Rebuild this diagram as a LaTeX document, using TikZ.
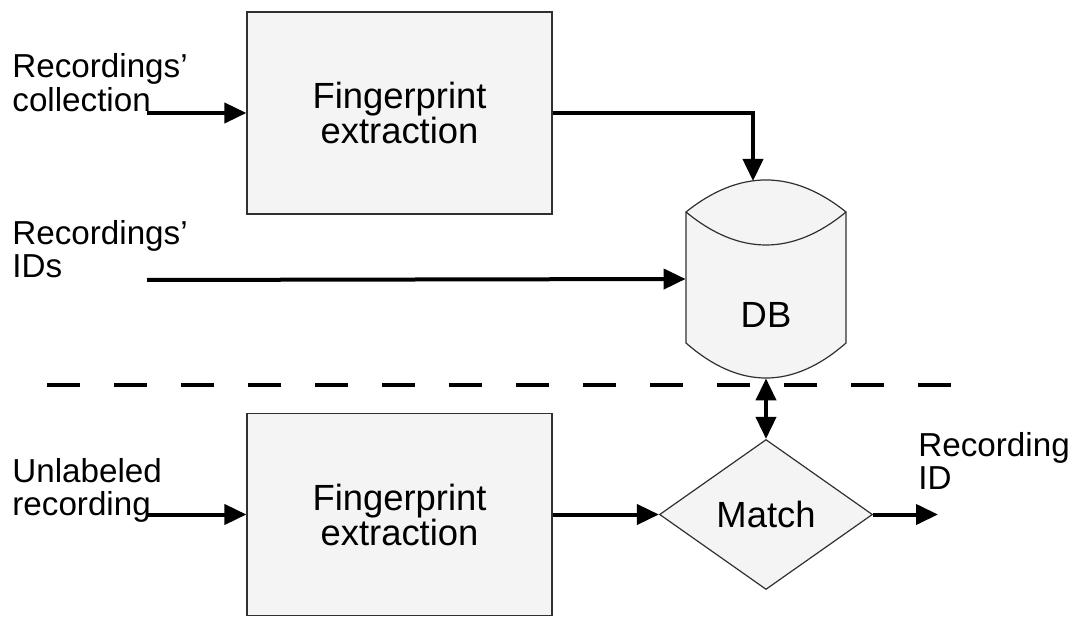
\documentclass[tikz,border=0pt]{standalone}
\usepackage{fontspec}
\setmainfont{Liberation Sans}
\usetikzlibrary{arrows.meta,shapes.geometric}

\definecolor{boxfill}{HTML}{F4F4F4}
\definecolor{boxline}{HTML}{303030}

\newcommand{\lblfont}{\fontsize{16.6pt}{16.5pt}\selectfont}
\newcommand{\boxfont}{\fontsize{18.2pt}{17.5pt}\selectfont}
\newcommand{\twolines}[2]{\begin{tabular}[t]{@{}l@{}}#1\\#2\end{tabular}}

\begin{document}
\begin{tikzpicture}[x=0.5pt,y=-0.5pt,
  stagebox/.style={draw=boxline, line width=0.6pt, fill=boxfill, inner sep=0pt,
    minimum width=152.5pt, minimum height=101pt, align=center, font=\boxfont},
  decision/.style={diamond, draw=boxline, line width=0.6pt, fill=boxfill, inner sep=0pt,
    minimum width=106.5pt, minimum height=75pt, font=\boxfont},
  sidelabel/.style={anchor=base west, inner sep=0pt, font=\lblfont},
  flow/.style={line width=2pt, -{Triangle[length=11pt,width=10pt]}},
  twoway/.style={line width=2pt, {Triangle[length=11pt,width=10pt]}-{Triangle[length=11pt,width=10pt]}},
  divider/.style={line width=1.7pt, dash pattern=on 16.5pt off 17pt}]

  \useasboundingbox (0,0) rectangle (1079,619);

  % processing blocks
  \node[stagebox] (fe1) at (399.5,113) {Fingerprint\\extraction};
  \node[stagebox] (fe2) at (399.5,514.5) {Fingerprint\\extraction};

  % database cylinder
  \path[draw=boxline, line width=0.6pt, fill=boxfill]
    (686,212) .. controls (739.3,169.3) and (792.7,169.3) .. (846,212)
    -- (846,343) .. controls (792.7,389.7) and (739.3,389.7) .. (686,343) -- cycle;
  \draw[boxline, line width=0.6pt]
    (686,212) .. controls (739.3,256) and (792.7,256) .. (846,212);
  \node[minimum width=80pt, minimum height=99pt, inner sep=0pt] (db) at (766,279) {};
  \node[anchor=base, inner sep=0pt, font=\boxfont] (dbtext) at (766,328) {DB};

  % matching step
  \node[decision] (match) at (766,514.5) {Match};

  % input / output labels
  \node[sidelabel] (lcoll) at (12,78) {\twolines{Recordings'}{collection}};
  \node[sidelabel] (lids) at (12,245) {\twolines{Recordings'}{IDs}};
  \node[sidelabel] (lunl) at (12,482) {\twolines{Unlabeled}{recording}};
  \node[sidelabel] (lout) at (918,456) {\twolines{Recording}{ID}};

  % free ends of the connectors
  \coordinate (in1) at (147,113);
  \coordinate (in2) at (147,280);
  \coordinate (in3) at (147,514.5);
  \coordinate (dbtop) at (753,181);
  \coordinate (out) at (938,514.5);

  % separator between enrolment and identification
  \draw[divider] (47,385) -- (951,385);

  % connectors
  \draw[flow] (in1) -- (fe1.west);
  \draw[flow] (fe1.east) -| (dbtop);
  \draw[flow] (in2) -- (db.west);
  \draw[flow] (in3) -- (fe2.west);
  \draw[flow] (fe2.east) -- (match.west);
  \draw[twoway] (db.south) -- (match.north);
  \draw[flow] (match.east) -- (out);
\end{tikzpicture}
\end{document}
